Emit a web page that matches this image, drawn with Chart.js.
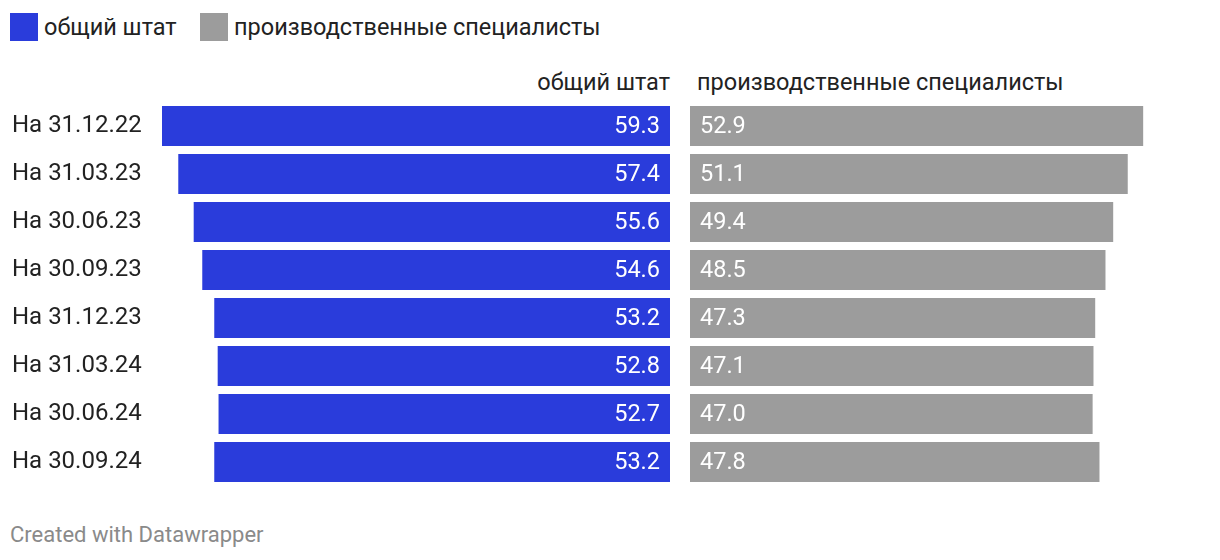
<!DOCTYPE html>
<html><head><meta charset="utf-8">
<script src="https://cdn.jsdelivr.net/npm/chart.js@4"></script>
<style>
html,body{margin:0;padding:0;background:#fff;width:1220px;height:560px;overflow:hidden;font-family:Roboto,"Noto Sans",sans-serif;color:#222;}
.abs{position:absolute;}
.leg{position:absolute;top:13px;height:28px;line-height:28px;font-size:23.5px;}
.sw{position:absolute;top:13px;width:28px;height:28px;}
.hdr{position:absolute;top:67px;font-size:23.5px;line-height:30px;}
#foot{position:absolute;left:10px;top:521px;font-size:22px;color:#8a8a8a;line-height:28px;}
</style></head>
<body>
<div class="sw" style="left:10px;background:#2a3cdb"></div>
<div class="leg" style="left:44px">общий штат</div>
<div class="sw" style="left:200px;background:#9c9c9c"></div>
<div class="leg" style="left:234px">производственные специалисты</div>
<div class="hdr" style="right:550px;text-align:right">общий штат</div>
<div class="hdr" style="left:697px">производственные специалисты</div>
<div class="abs" style="left:12px;top:102px;width:658px;height:384px"><canvas id="c1"></canvas></div>
<div class="abs" style="left:690px;top:102px;width:508px;height:384px"><canvas id="c2"></canvas></div>
<div id="foot">Created with Datawrapper</div>
<script>
const categories = ["На 31.12.22","На 31.03.23","На 30.06.23","На 30.09.23","На 31.12.23","На 31.03.24","На 30.06.24","На 30.09.24"];
const totalStaff = [59.3,57.4,55.6,54.6,53.2,52.8,52.7,53.2];
const productionSpecialists = [52.9,51.1,49.4,48.5,47.3,47.1,47.0,47.8];
const seriesNames = ["общий штат","производственные специалисты"];
const scaleMax = 59.3;

const FONT = "Roboto, 'Noto Sans', sans-serif";
function valueLabels(side){
  return {
    id:'vl'+side,
    afterDatasetsDraw(chart){
      const ctx=chart.ctx;
      const meta=chart.getDatasetMeta(0);
      ctx.save();
      ctx.fillStyle='#fff';
      ctx.font='23.5px '+FONT;
      ctx.textBaseline='middle';
      meta.data.forEach((el,i)=>{
        const v=chart.data.datasets[0].data[i].toFixed(1);
        if(side==='left'){
          ctx.textAlign='right';
          ctx.fillText(v, el.base-10, el.y+1);
        } else {
          ctx.textAlign='left';
          ctx.fillText(v, el.base+10, el.y+1);
        }
      });
      ctx.restore();
    }
  };
}
const common = {
  indexAxis:'y',responsive:true,maintainAspectRatio:false,animation:false,
  layout:{padding:0},
  plugins:{legend:{display:false},tooltip:{enabled:false},title:{display:false}},
};
new Chart(document.getElementById('c1'),{
  type:'bar',
  data:{labels:categories,datasets:[{label:seriesNames[0],data:totalStaff,backgroundColor:'#2a3cdb',barPercentage:40/48,categoryPercentage:1,borderWidth:0}]},
  options:{...common,
    scales:{
      x:{display:false,reverse:true,min:0,max:scaleMax},
      y:{grid:{display:false},border:{display:false},
         afterFit(s){s.width=150;s.paddingTop=0;s.paddingBottom=0;},
         ticks:{crossAlign:'far',padding:0,color:'#222',font:{family:FONT,size:24}}}
    }},
  plugins:[valueLabels('left')]
});
new Chart(document.getElementById('c2'),{
  type:'bar',
  data:{labels:categories,datasets:[{label:seriesNames[1],data:productionSpecialists,backgroundColor:'#9c9c9c',barPercentage:40/48,categoryPercentage:1,borderWidth:0}]},
  options:{...common,
    scales:{
      x:{display:false,min:0,max:scaleMax},
      y:{display:false}
    }},
  plugins:[valueLabels('right')]
});
</script>
</body></html>
